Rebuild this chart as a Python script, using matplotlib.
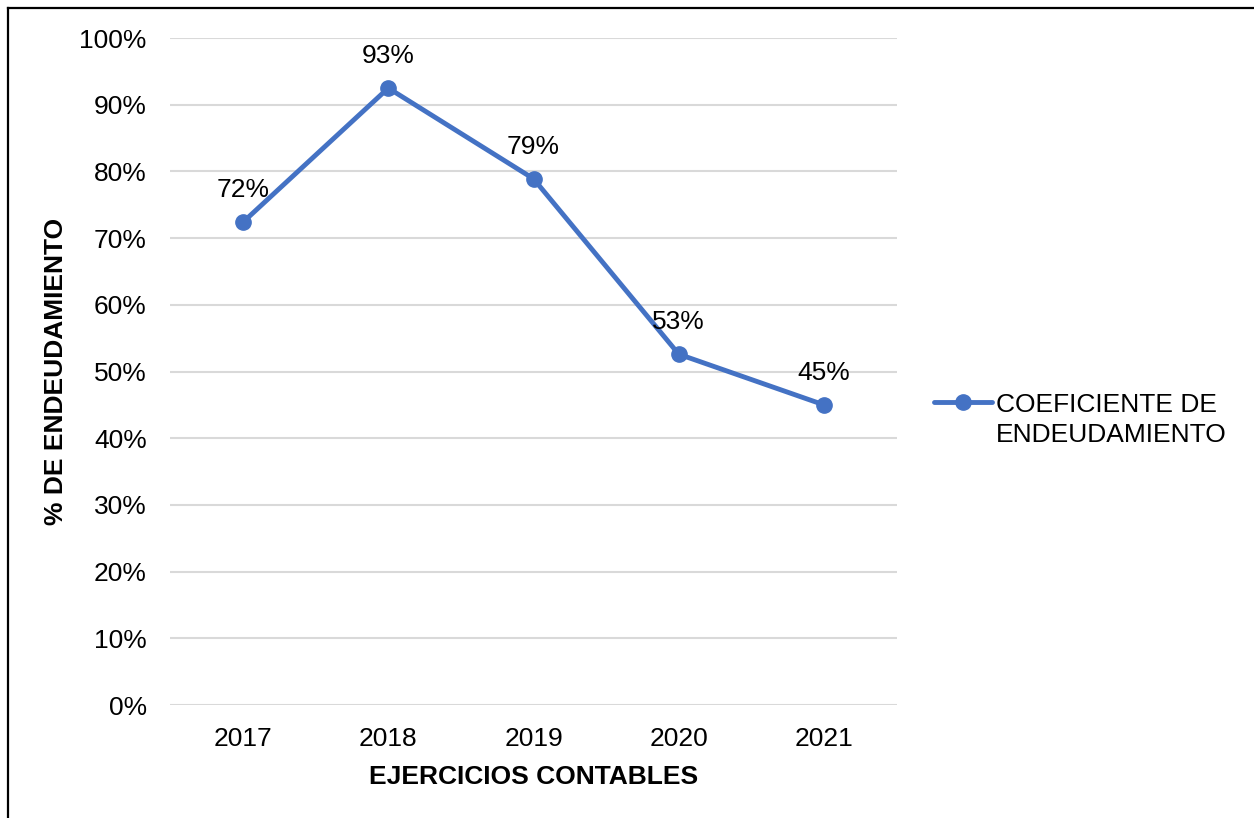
import matplotlib.pyplot as plt
from matplotlib.lines import Line2D
from matplotlib.ticker import PercentFormatter

plt.rcParams['font.family'] = ['Liberation Sans', 'DejaVu Sans']

#________________________________DATA________________________________
years = ['2017', '2018', '2019', '2020', '2021']
coef = [72.4, 92.5, 78.9, 52.6, 45.0]  # % de endeudamiento
point_labels = ['72%', '93%', '79%', '53%', '45%']
serie_name = 'COEFICIENTE DE\nENDEUDAMIENTO'

blue = '#4472C4'
grid_col = '#D9D9D9'

#________________________________PLOT________________________________
fig = plt.figure(figsize=(12.54, 8.18), dpi=100)
ax = fig.add_axes([0.1359, 0.1381, 0.5791, 0.8154])

x = range(len(years))
ax.plot(x, coef, color=blue, lw=3.5, marker='o', ms=11, label=serie_name,
        solid_capstyle='round', zorder=3)
for xi, yi, lab in zip(x, coef, point_labels):
    ax.annotate(lab, (xi, yi), xytext=(0, 23), textcoords='offset points',
                ha='center', va='center', fontsize=19)

ax.set_xlim(-0.5, len(years) - 0.5)
ax.set_ylim(0, 100)
ax.set_yticks(range(0, 101, 10))
ax.yaxis.set_major_formatter(PercentFormatter(decimals=0))
ax.set_xticks(list(x))
ax.set_xticklabels(years)
ax.grid(axis='y', color=grid_col, lw=1.5)
ax.set_axisbelow(True)
for s in ax.spines.values():
    s.set_visible(False)
ax.tick_params(length=0, labelsize=19)
ax.tick_params(axis='y', pad=17)
ax.tick_params(axis='x', pad=16)

ax.set_xlabel('EJERCICIOS CONTABLES', fontsize=19, fontweight='bold', labelpad=10)
ax.set_ylabel('% DE ENDEUDAMIENTO', fontsize=19, fontweight='bold', labelpad=8)

leg = ax.legend(loc='upper left', bbox_to_anchor=(0.745, 0.52), bbox_transform=fig.transFigure,
                frameon=False, fontsize=19, handlelength=2.2, handletextpad=0.15,
                borderpad=0, borderaxespad=0)
for col in leg._legend_handle_box.get_children():
    for row in col.get_children():
        row.align = 'top'
for t in leg.get_texts():
    t.set_linespacing(1.35)

# border of the picture (left and top only, as cropped)
fig.add_artist(Line2D([8 / 1254, 8 / 1254], [0, 1 - 8 / 818], color='black', lw=1.6,
                      transform=fig.transFigure))
fig.add_artist(Line2D([8 / 1254, 1], [1 - 8 / 818, 1 - 8 / 818], color='black', lw=1.6,
                      transform=fig.transFigure))

fig.savefig('out.png', dpi=100)
